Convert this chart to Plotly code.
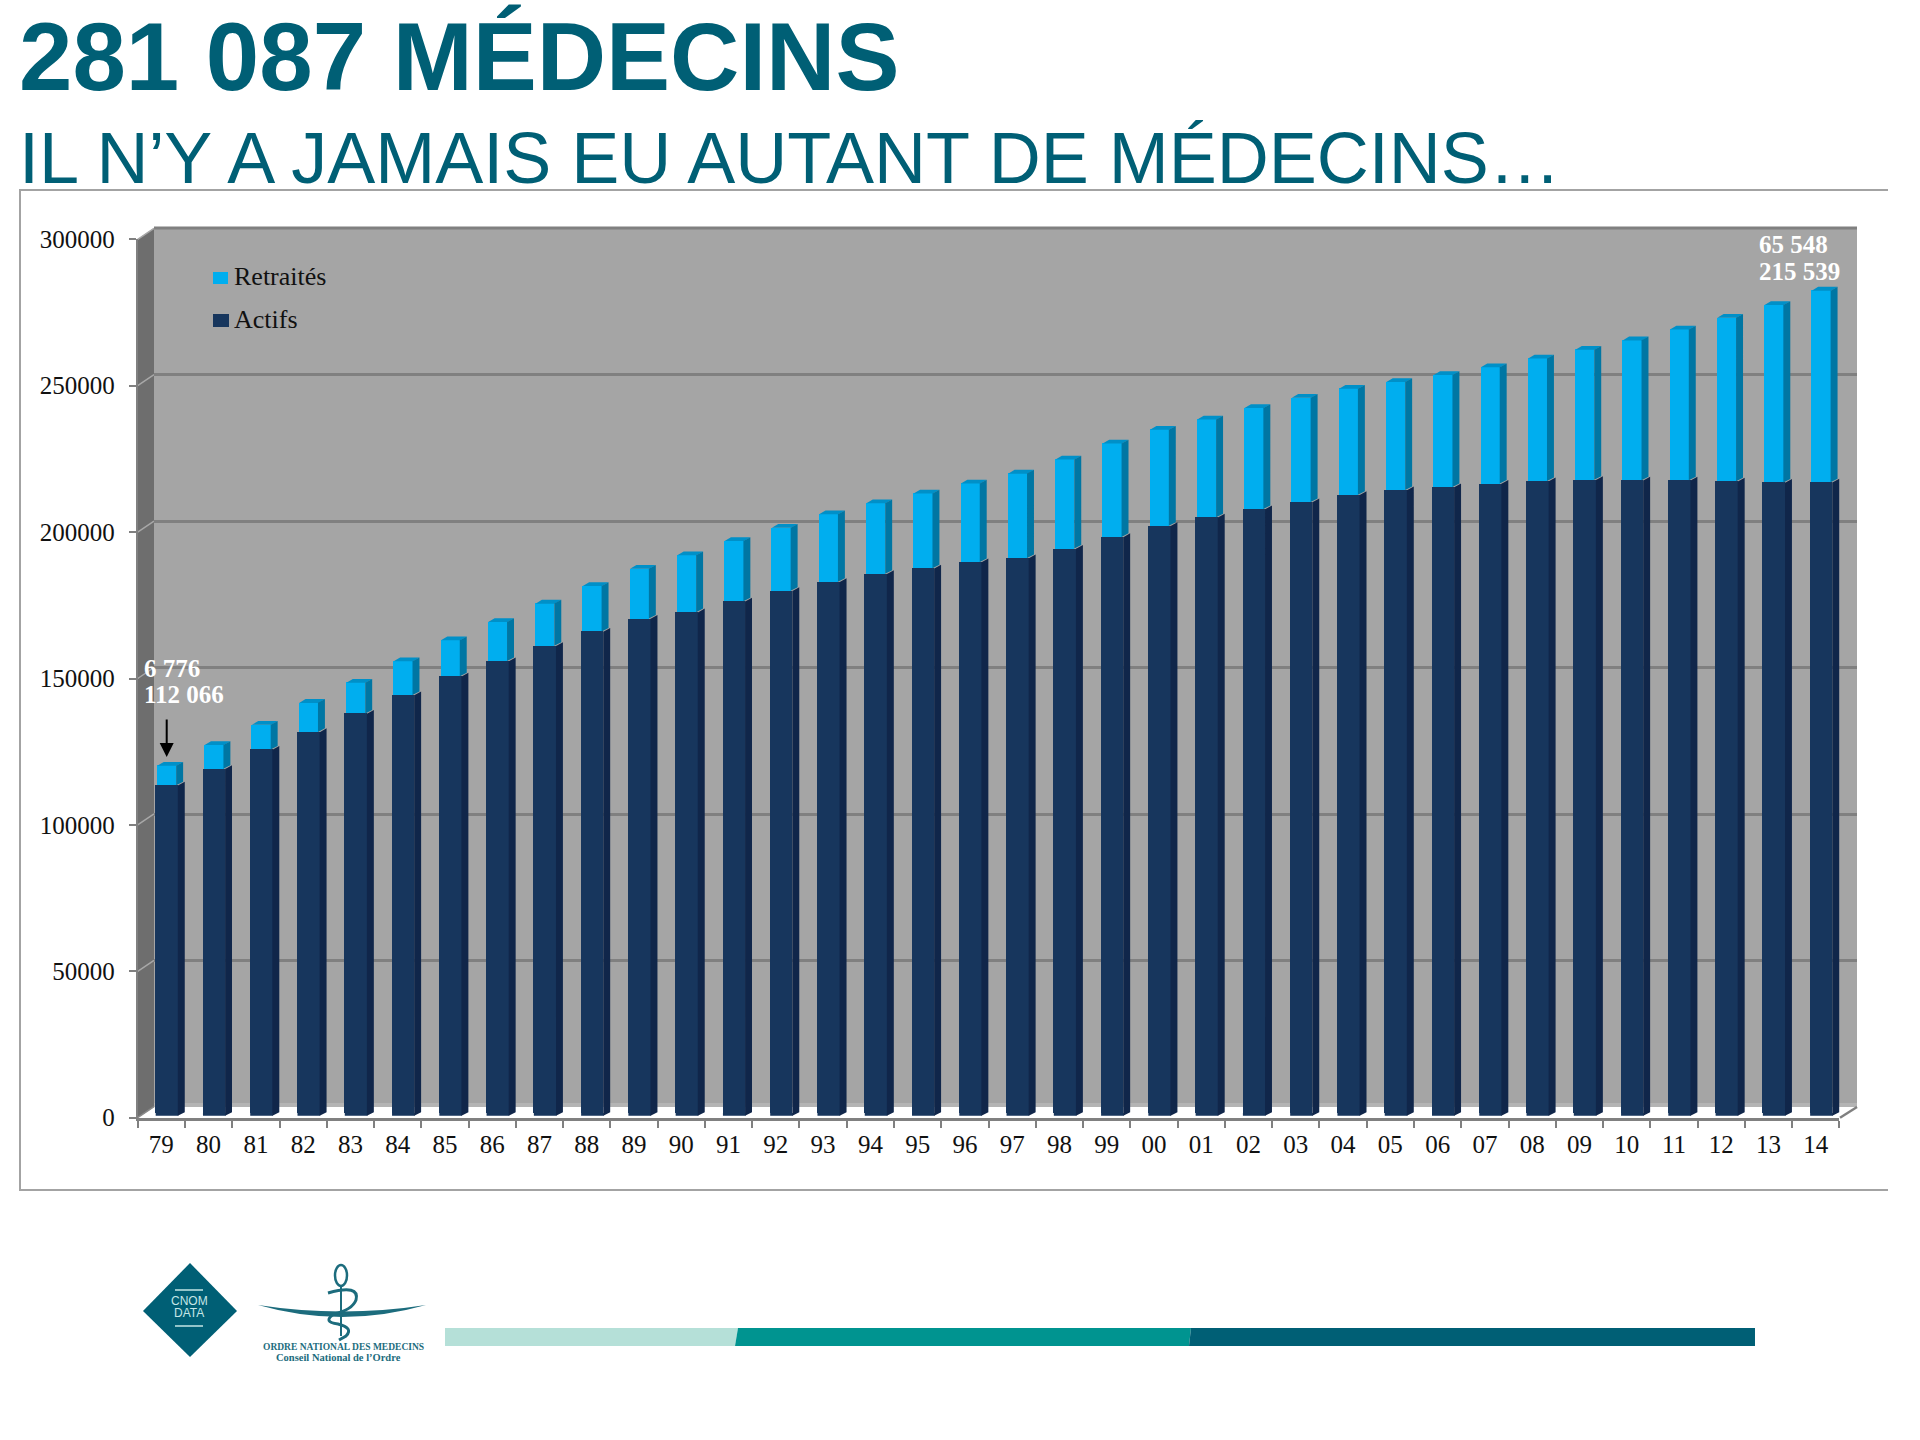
import plotly.graph_objects as go

years = ["79","80","81","82","83","84","85","86","87","88","89","90","91","92","93","94","95","96",
         "97","98","99","00","01","02","03","04","05","06","07","08","09","10","11","12","13","14"]
actifs = [112066,117700,124300,130300,136600,142900,149300,154500,159700,164600,169000,171200,
          174900,178500,181600,184300,186200,188300,189700,192900,196900,200700,203600,206400,
          208800,211300,212900,213900,215100,216000,216400,216200,216200,215900,215500,215539]
retraites = [6776,8200,8500,10000,10600,11600,12400,13400,14500,15600,17100,19500,20700,21600,
             23100,24200,25600,26900,28900,30500,32000,32900,33500,34600,35700,36300,37000,38400,
             39800,41900,44500,47900,51600,55900,60700,65548]
y_ticks = [0,50000,100000,150000,200000,250000,300000]

W, H = 1920, 1440
TEAL = "#005f75"
SERIF = "Liberation Serif"
SANS = "Liberation Sans"
NAVY = "#17365d"
CYAN = "#00aeef"

def px(x): return x / W
def py(y): return 1 - y / H
def path(cmds):
    out = []
    for c in cmds:
        out.append(c if isinstance(c, str) else f"{px(c[0]):.5f},{py(c[1]):.5f}")
    return " ".join(out)

PITCH = 47.27
DY_U = 1200          # depth rise, value units
WD, WR = 0.48, 0.41  # bar widths, category units
DXD, DXR = 0.135, 0.135
SEAM = 0.012         # side faces overlap the fronts a little, so no light seam shows

def polys(list_of_pts):
    xs, ys = [], []
    for pts in list_of_pts:
        for a, b in pts:
            xs.append(a); ys.append(b)
        xs.append(pts[0][0]); ys.append(pts[0][1])
        xs.append(None); ys.append(None)
    return xs, ys

FOOT = -800
foot, d_side, r_side, r_top = [], [], [], []
for i, (a, r) in enumerate(zip(actifs, retraites)):
    xd = i + WD / 2
    foot.append([(i - WD / 2, FOOT), (xd, FOOT), (xd, 100), (i - WD / 2, 100)])
    d_side.append([(xd - SEAM, FOOT), (xd - SEAM, a), (xd, a), (xd + DXD, a + DY_U), (xd + DXD, FOOT + DY_U)])
    xr = i + WR / 2
    t = a + r
    r_top.append([(i - WR / 2, t - 100), (xr, t - 100), (xr + DXR, t + DY_U), (i - WR / 2 + DXR, t + DY_U)])
    r_side.append([(xr - SEAM, a), (xr - SEAM, t), (xr, t), (xr + DXR, t + DY_U), (xr + DXR, a + DY_U)])

fig = go.Figure()

# invisible carrier of the back-wall subplot, so that its gridlines are drawn
fig.add_trace(go.Scatter(x=[0, 1], y=[0, 0], mode="none", xaxis="x", yaxis="y",
                         showlegend=False, hoverinfo="skip"))
# invisible carrier of the category axis
fig.add_trace(go.Scatter(x=years, y=[0] * len(years), mode="none", xaxis="x2", yaxis="y2",
                         showlegend=False, hoverinfo="skip"))

fig.add_trace(go.Bar(x=list(range(36)), y=actifs, name="Actifs", width=WD, marker_color=NAVY,
                     marker_line_width=0, xaxis="x3", yaxis="y3", showlegend=False))
fig.add_trace(go.Bar(x=list(range(36)), y=retraites, name="Retraités", width=WR, marker_color=CYAN,
                     marker_line_width=0, xaxis="x3", yaxis="y3", showlegend=False))

for pts, col in [(foot, NAVY), (d_side, "#10264a"), (r_top, "#0090c8"), (r_side, "#0076a3")]:
    xs, ys = polys(pts)
    fig.add_trace(go.Scatter(x=xs, y=ys, mode="lines", fill="toself", fillcolor=col,
                             line=dict(width=0, color=col), xaxis="x3", yaxis="y3",
                             showlegend=False, hoverinfo="skip"))

shapes = []
def sh(**k):
    k.setdefault("xref", "paper"); k.setdefault("yref", "paper")
    shapes.append(k)

def line(x0, y0, x1, y1, color, width):
    sh(type="line", x0=px(x0), y0=py(y0), x1=px(x1), y1=py(y1), line=dict(color=color, width=width), layer="below")

def poly(pts, color):
    c = ["M", pts[0]]
    for p in pts[1:]:
        c += ["L", p]
    c.append("Z")
    sh(type="path", path=path(c), fillcolor=color, line=dict(width=0), layer="below")

# frame
line(20, 190, 1888, 190, "#a3a3a3", 2)
line(20, 189, 20, 1191, "#a3a3a3", 2)
line(20, 1190, 1888, 1190, "#a3a3a3", 2)

# walls
poly([(154, 228), (1857, 228), (1857, 1107), (154, 1107)], "#a5a5a5")
poly([(137.7, 239.3), (154, 228), (154, 1107), (137.7, 1117.7)], "#6e6e6e")
poly([(154, 1103), (1857, 1103), (1857, 1107), (154, 1107)], "#b4b4b4")
line(154, 228, 1857, 228, "#808080", 3)
for v in y_ticks:
    yy = 1117.7 - v * 0.002928
    line(137.7, yy, 154, yy - 11, "#a8a8a8" if v else "#8a8a8a", 1.5)
line(1840, 1117.7, 1857, 1107, "#808080", 2.5)

# legend keys
poly([(213, 272), (228, 272), (228, 284), (213, 284)], CYAN)
poly([(213, 314), (229, 314), (229, 327), (213, 327)], NAVY)

# bottom band
poly([(445, 1328), (738, 1328), (735, 1346), (445, 1346)], "#b5e0d8")
poly([(738, 1328), (1191, 1328), (1189, 1346), (735, 1346)], "#009490")
poly([(1191, 1328), (1755, 1328), (1755, 1346), (1189, 1346)], TEAL)

# CNOM diamond
poly([(143, 1311), (190, 1263), (237, 1311), (190, 1357)], TEAL)
line(175, 1290, 203, 1290, "#c5e6e6", 1.5)
line(175, 1326, 203, 1326, "#c5e6e6", 1.5)

# Ordre emblem
sh(type="path", fillcolor="#1c6c7d", line=dict(width=0), layer="below",
   path=path(["M", (258, 1305), "Q", (342, 1318), (426, 1305), "Q", (342, 1329), (258, 1305), "Z"]))
sh(type="circle", x0=px(335), x1=px(347), y0=py(1265), y1=py(1286), line=dict(color="#1c6c7d", width=2.5), layer="below")
line(341, 1286, 341, 1336, "#1c6c7d", 2)
sh(type="path", line=dict(color="#1c6c7d", width=3), layer="below",
   path=path(["M", (328, 1293), "Q", (360, 1284), (356, 1300), "Q", (352, 1310), (334, 1314),
              "Q", (322, 1322), (338, 1324), "Q", (354, 1328), (346, 1336), "L", (339, 1340)]))

layout_annots = []
def note(text, x, y, size, color, font=SANS, bold=False, anchor="left"):
    layout_annots.append(dict(text=f"<b>{text}</b>" if bold else text, x=px(x), y=py(y), xref="paper", yref="paper",
                              xanchor=anchor, yanchor="middle", showarrow=False,
                              font=dict(family=font, size=size, color=color)))

note("281 087 MÉDECINS", 17, 57, 96, TEAL, bold=True)
note("IL N’Y A JAMAIS EU AUTANT DE MÉDECINS…", 17, 158, 72, TEAL)
note("6 776", 142, 668, 25, "white", SERIF, True)
note("112 066", 142, 695, 25, "white", SERIF, True)
note("65 548", 1757, 245, 25, "white", SERIF, True)
note("215 539", 1757, 271, 25, "white", SERIF, True)
note("Retraités", 232, 276, 26, "#111111", SERIF)
note("Actifs", 232, 319, 26, "#111111", SERIF)
note("CNOM", 189, 1301, 12, "#c5e6e6", SANS, anchor="center")
note("DATA", 189, 1313, 12, "#c5e6e6", SANS, anchor="center")
note("<b>ORDRE NATIONAL DES MEDECINS</b>", 343, 1347, 9.5, "#1c6c7d", SERIF, anchor="center")
note("<b>Conseil National de l’Ordre</b>", 338, 1357, 10.5, "#1c6c7d", SERIF, anchor="center")

# arrow to the first bar
layout_annots.append(dict(x=px(166.7), y=py(757), ax=0, ay=-39, xref="paper", yref="paper",
                          axref="pixel", ayref="pixel", text="", showarrow=True, arrowhead=2,
                          arrowsize=1.4, arrowwidth=2, arrowcolor="black"))

tickfont = dict(family=SERIF, size=25, color="#111111")
GRID = "#808080"
fig.update_layout(
    width=W, height=H, autosize=False, margin=dict(l=0, r=0, t=0, b=0, pad=0),
    paper_bgcolor="white", plot_bgcolor="rgba(0,0,0,0)", barmode="stack", bargap=0,
    shapes=shapes, annotations=layout_annots, showlegend=False,
    # back wall
    xaxis=dict(domain=[px(154), px(1857)], range=[0, 1], visible=False, fixedrange=True, anchor="y", automargin=False),
    yaxis=dict(domain=[py(1107), py(228)], range=[0, 300000], tickvals=y_ticks[1:], showticklabels=False, ticks="",
               showgrid=True, gridcolor=GRID, gridwidth=2.5, zeroline=False, showline=False, anchor="x", automargin=False),
    # front axes, carrying labels
    xaxis2=dict(domain=[px(137.7), px(137.7 + 36 * PITCH)], type="category", categoryorder="array",
                categoryarray=years, range=[-0.5, 35.5], tickson="boundaries", ticks="outside", ticklen=7,
                tickwidth=2, tickcolor=GRID, showline=True, linecolor=GRID, linewidth=3, showgrid=False,
                tickfont=tickfont, anchor="y2", ticklabelstandoff=2, tickangle=0, automargin=False),
    yaxis2=dict(domain=[py(1117.7), py(239.3)], range=[0, 300000], tickvals=y_ticks, ticks="outside", ticklen=7,
                tickwidth=2, tickcolor=GRID, showline=True, linecolor=GRID, linewidth=2, showgrid=False,
                zeroline=False, tickfont=tickfont, tickformat="d", anchor="x2", ticklabelstandoff=9, automargin=False),
    # bars
    xaxis3=dict(domain=[px(143.4), px(143.4 + 36 * PITCH)], range=[-0.5, 35.5], visible=False, anchor="y3", automargin=False),
    yaxis3=dict(domain=[py(1113.4 + 2000 * 0.002928), py(1113.4 - 300000 * 0.002928)], range=[-2000, 300000],
                visible=False, anchor="x3", automargin=False),
)

fig.write_html("out.html", config={"displayModeBar": False}, post_script="document.body.style.margin='0';")
